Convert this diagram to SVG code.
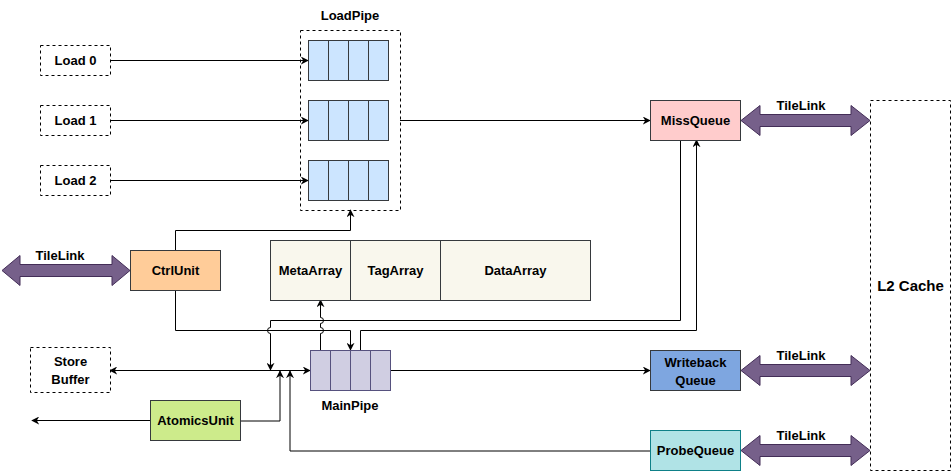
<svg xmlns="http://www.w3.org/2000/svg" width="951" height="471" viewBox="0 0 951 471">
<style>
text{font-family:"Liberation Sans",Arial,Helvetica,sans-serif;font-weight:bold;font-size:13px;fill:#000;text-anchor:middle}
.dash{fill:#fff;stroke:#000;stroke-dasharray:3 3}
.lp{fill:#cce5ff;stroke:#36393d}
.mp{fill:#d0cee2;stroke:#56517e}
.arr{fill:#f9f7ed;stroke:#36393d}
.tl{fill:#76608a;stroke:#432d57}
.ln{fill:none;stroke:#000;stroke-width:1}
.lg{fill:none;stroke:#000;stroke-width:1}
</style>
<defs>
<marker id="ah" viewBox="0 0 10 10" refX="9" refY="5" markerWidth="8" markerHeight="8" markerUnits="userSpaceOnUse" orient="auto-start-reverse">
<path d="M0,0 L10,5 L0,10 L3,5 z" fill="#000"/>
</marker>
</defs>
<rect width="951" height="471" fill="#fff"/>

<g id="connectors">
<path class="ln" d="M110,60.5 H308" marker-end="url(#ah)"/>
<path class="ln" d="M110,120.5 H308" marker-end="url(#ah)"/>
<path class="ln" d="M110,180.5 H308" marker-end="url(#ah)"/>
<path class="ln" d="M400,120.5 H650" marker-end="url(#ah)"/>
<path class="ln" d="M175.5,250 V230.5 H350.5 V210" marker-end="url(#ah)"/>
<path class="ln" d="M175.5,290 V330.5 H350.5 V350" marker-end="url(#ah)"/>
<path class="ln" d="M320.5,350 V333.5 A3,3 0 0 0 320.5,327.5 V323.5 A3,3 0 0 0 320.5,317.5 V300" marker-end="url(#ah)"/>
<path class="ln" d="M360.5,350 V330.5 H696.5 V140" marker-end="url(#ah)"/>
<path class="ln" d="M680.5,140 V320.5 H270.5 V327.5 A3,3 0 0 0 270.5,333.5 V370" marker-end="url(#ah)"/>
<path class="ln" d="M310,370.5 H110" marker-start="url(#ah)" marker-end="url(#ah)"/>
<path class="ln" d="M390,370.5 H650" marker-end="url(#ah)"/>
<path class="ln" d="M150,420.5 H32" marker-end="url(#ah)"/>
<path class="lg" d="M240,421 H280 V371" marker-end="url(#ah)"/>
<path class="lg" d="M650,451 H290 V371" marker-end="url(#ah)"/>
</g>

<g id="load0"><rect class="dash" x="40.5" y="45.5" width="70" height="30"/><text x="75.5" y="65">Load 0</text></g>
<g id="load1"><rect class="dash" x="40.5" y="105.5" width="70" height="30"/><text x="75.5" y="125">Load 1</text></g>
<g id="load2"><rect class="dash" x="40.5" y="165.5" width="70" height="30"/><text x="75.5" y="185">Load 2</text></g>

<g id="loadpipe">
<rect x="300.5" y="30.5" width="100" height="180" fill="none" stroke="#000" stroke-dasharray="3 3"/>
<text x="350" y="20">LoadPipe</text>
<rect class="lp" x="308.5" y="40.5" width="20" height="40"/><rect class="lp" x="328.5" y="40.5" width="20" height="40"/><rect class="lp" x="348.5" y="40.5" width="20" height="40"/><rect class="lp" x="368.5" y="40.5" width="20" height="40"/>
<rect class="lp" x="308.5" y="100.5" width="20" height="40"/><rect class="lp" x="328.5" y="100.5" width="20" height="40"/><rect class="lp" x="348.5" y="100.5" width="20" height="40"/><rect class="lp" x="368.5" y="100.5" width="20" height="40"/>
<rect class="lp" x="308.5" y="160.5" width="20" height="40"/><rect class="lp" x="328.5" y="160.5" width="20" height="40"/><rect class="lp" x="348.5" y="160.5" width="20" height="40"/><rect class="lp" x="368.5" y="160.5" width="20" height="40"/>
</g>

<g id="missqueue"><rect x="650.5" y="100.5" width="90" height="40" fill="#ffcccc" stroke="#36393d"/><text x="695.5" y="125">MissQueue</text></g>

<g id="l2cache"><rect x="870.5" y="100.5" width="80" height="370" fill="none" stroke="#000" stroke-dasharray="3 3"/><text x="910.5" y="291" style="font-size:15px">L2 Cache</text></g>

<g id="tilelink-ctrl">
<polygon class="tl" points="2,270.5 20,255.5 20,264.5 112,264.5 112,255.5 130,270.5 112,285.5 112,276.5 20,276.5 20,285.5"/>
<text x="60" y="260">TileLink</text>
</g>
<g id="tilelink-miss">
<polygon class="tl" points="741,120.5 760,105.5 760,114.5 851,114.5 851,105.5 870,120.5 851,135.5 851,126.5 760,126.5 760,135.5"/>
<text x="801" y="110">TileLink</text>
</g>
<g id="tilelink-wb">
<polygon class="tl" points="741,370.5 760,355.5 760,364.5 851,364.5 851,355.5 870,370.5 851,385.5 851,376.5 760,376.5 760,385.5"/>
<text x="801" y="360">TileLink</text>
</g>
<g id="tilelink-probe">
<polygon class="tl" points="741,450.5 760,435.5 760,444.5 851,444.5 851,435.5 870,450.5 851,465.5 851,456.5 760,456.5 760,465.5"/>
<text x="801" y="440">TileLink</text>
</g>

<g id="ctrlunit"><rect x="130.5" y="250.5" width="90" height="40" fill="#ffcc99" stroke="#36393d"/><text x="175.5" y="275">CtrlUnit</text></g>

<g id="arrays">
<rect class="arr" x="270.5" y="240.5" width="80" height="60"/><text x="310.5" y="275">MetaArray</text>
<rect class="arr" x="350.5" y="240.5" width="90" height="60"/><text x="395.5" y="275">TagArray</text>
<rect class="arr" x="440.5" y="240.5" width="150" height="60"/><text x="515.5" y="275">DataArray</text>
</g>

<g id="mainpipe">
<rect class="mp" x="310.5" y="350.5" width="20" height="40"/><rect class="mp" x="330.5" y="350.5" width="20" height="40"/><rect class="mp" x="350.5" y="350.5" width="20" height="40"/><rect class="mp" x="370.5" y="350.5" width="20" height="40"/>
<text x="350" y="410">MainPipe</text>
</g>

<g id="storebuffer"><rect class="dash" x="30.5" y="347.5" width="80" height="45"/><text x="70.5" y="366">Store</text><text x="70.5" y="384">Buffer</text></g>

<g id="atomicsunit"><rect x="150.5" y="400.5" width="90" height="40" fill="#cdeb8b" stroke="#36393d"/><text x="195.5" y="425">AtomicsUnit</text></g>

<g id="writeback"><rect x="650.5" y="350.5" width="90" height="40" fill="#7ea6e0" stroke="#36393d"/><text x="695.5" y="367">Writeback</text><text x="695.5" y="385">Queue</text></g>

<g id="probequeue"><rect x="650.5" y="430.5" width="90" height="40" fill="#b0e3e6" stroke="#0e8088"/><text x="695.5" y="455">ProbeQueue</text></g>
</svg>
